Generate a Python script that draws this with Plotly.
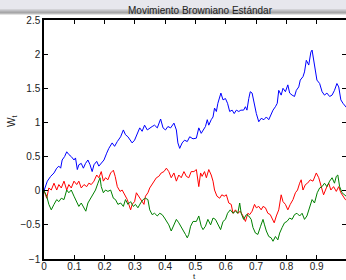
import plotly.graph_objects as go

# ---- data (t, W_t) ----
t_blue = [0.000, 0.004, 0.011, 0.022, 0.033, 0.042, 0.049, 0.055, 0.060, 0.068, 0.075, 0.082, 0.090, 0.099, 0.104,
          0.110, 0.115, 0.123, 0.130, 0.137, 0.145, 0.152, 0.159, 0.165, 0.174, 0.181, 0.189, 0.198, 0.207, 0.214,
          0.225, 0.233, 0.242, 0.253, 0.262, 0.269, 0.277, 0.286, 0.291, 0.299, 0.308, 0.316, 0.324, 0.332, 0.341,
          0.349, 0.357, 0.365, 0.374, 0.385, 0.393, 0.401, 0.409, 0.418, 0.429, 0.437, 0.442, 0.448, 0.456, 0.464,
          0.473, 0.481, 0.492, 0.503, 0.511, 0.519, 0.525, 0.533, 0.539, 0.544, 0.552, 0.558, 0.563, 0.569, 0.574,
          0.580, 0.584, 0.591, 0.599, 0.606, 0.613, 0.621, 0.628, 0.635, 0.643, 0.650, 0.659, 0.665, 0.670, 0.676,
          0.681, 0.687, 0.692, 0.701, 0.709, 0.717, 0.726, 0.734, 0.742, 0.750, 0.756, 0.764, 0.770, 0.775, 0.783,
          0.789, 0.797, 0.805, 0.811, 0.819, 0.827, 0.833, 0.841, 0.846, 0.855, 0.860, 0.866, 0.874, 0.881, 0.885,
          0.890, 0.896, 0.901, 0.910, 0.918, 0.926, 0.934, 0.943, 0.951, 0.959, 0.967, 0.973, 0.980, 0.987, 0.995,
          1.000]
w_blue = [0.00, 0.06, 0.14, 0.21, 0.26, 0.33, 0.36, 0.33, 0.45, 0.50, 0.57, 0.53, 0.50, 0.45, 0.48,
          0.31, 0.38, 0.40, 0.33, 0.40, 0.45, 0.38, 0.28, 0.38, 0.43, 0.36, 0.40, 0.45, 0.55, 0.62,
          0.70, 0.65, 0.72, 0.79, 0.89, 0.82, 0.79, 0.74, 0.70, 0.74, 0.84, 0.92, 0.87, 0.96, 0.89,
          0.92, 0.94, 0.96, 0.92, 1.05, 0.92, 0.89, 0.94, 0.92, 0.99, 0.89, 0.70, 0.62, 0.70, 0.74,
          0.72, 0.79, 0.76, 0.77, 0.92, 0.84, 0.89, 0.94, 1.04, 0.96, 1.04, 1.08, 1.21, 1.16, 1.28,
          1.38, 1.43, 1.33, 1.35, 1.28, 1.16, 1.18, 1.13, 1.18, 1.16, 1.18, 1.18, 1.23, 1.18, 1.35,
          1.45, 1.43, 1.30, 1.13, 1.01, 1.06, 1.04, 1.08, 1.04, 1.13, 1.18, 1.23, 1.28, 1.47, 1.40,
          1.50, 1.45, 1.55, 1.43, 1.40, 1.38, 1.47, 1.52, 1.62, 1.67, 1.74, 1.91, 1.84, 2.03, 2.06,
          1.91, 1.77, 1.62, 1.57, 1.45, 1.40, 1.43, 1.38, 1.40, 1.47, 1.57, 1.52, 1.33, 1.28, 1.23,
          1.21]

t_red = [0.000, 0.009, 0.016, 0.024, 0.033, 0.042, 0.049, 0.057, 0.066, 0.075, 0.082, 0.090, 0.099, 0.108, 0.115,
         0.123, 0.132, 0.141, 0.148, 0.156, 0.165, 0.174, 0.181, 0.189, 0.196, 0.203, 0.211, 0.220, 0.229, 0.235,
         0.242, 0.251, 0.258, 0.266, 0.275, 0.280, 0.286, 0.291, 0.299, 0.305, 0.313, 0.321, 0.330, 0.335, 0.343,
         0.349, 0.357, 0.365, 0.371, 0.379, 0.387, 0.396, 0.404, 0.412, 0.420, 0.429, 0.437, 0.445, 0.453, 0.462,
         0.470, 0.478, 0.486, 0.495, 0.503, 0.511, 0.517, 0.522, 0.530, 0.536, 0.544, 0.552, 0.558, 0.563, 0.571,
         0.580, 0.587, 0.595, 0.602, 0.610, 0.618, 0.624, 0.632, 0.640, 0.648, 0.657, 0.665, 0.673, 0.679, 0.687,
         0.695, 0.701, 0.709, 0.717, 0.723, 0.731, 0.739, 0.747, 0.756, 0.760, 0.767, 0.775, 0.783, 0.789, 0.797,
         0.805, 0.813, 0.822, 0.830, 0.837, 0.844, 0.849, 0.855, 0.863, 0.870, 0.879, 0.888, 0.899, 0.907, 0.915,
         0.923, 0.932, 0.940, 0.947, 0.956, 0.965, 0.973, 0.980, 0.987, 0.995, 1.000]
w_red = [0.00, -0.11, 0.04, 0.01, 0.11, 0.01, 0.09, 0.04, 0.14, 0.01, 0.09, 0.04, 0.14, 0.09, 0.14,
         0.04, 0.09, 0.06, 0.11, 0.09, 0.14, 0.23, 0.19, 0.28, 0.14, 0.19, 0.16, 0.26, 0.30, 0.21,
         0.06, -0.01, 0.01, -0.06, -0.13, -0.20, -0.28, -0.20, -0.16, -0.03, -0.08, -0.13, -0.20, -0.08, -0.03,
         0.04, 0.09, 0.14, 0.19, 0.21, 0.26, 0.28, 0.33, 0.28, 0.19, 0.26, 0.14, 0.23, 0.19, 0.28,
         0.21, 0.19, 0.28, 0.28, 0.31, 0.06, 0.26, 0.21, 0.28, 0.19, 0.31, 0.23, 0.14, 0.01, -0.08,
         -0.11, -0.06, -0.08, -0.06, -0.18, -0.20, -0.33, -0.28, -0.33, -0.30, -0.37, -0.45, -0.33, -0.35, -0.30,
         -0.20, -0.25, -0.23, -0.28, -0.23, -0.25, -0.33, -0.35, -0.42, -0.47, -0.37, -0.28, -0.06, -0.16, -0.20,
         -0.28, -0.20, -0.13, -0.03, 0.01, 0.11, 0.16, 0.01, 0.09, 0.11, 0.16, 0.14, 0.26, 0.19, 0.06,
         -0.06, 0.04, 0.11, 0.01, 0.06, -0.01, 0.06, -0.03, -0.08, -0.13, -0.14]

t_green = [0.000, 0.009, 0.016, 0.024, 0.033, 0.042, 0.049, 0.057, 0.066, 0.075, 0.082, 0.090, 0.099, 0.108, 0.115,
           0.123, 0.132, 0.138, 0.145, 0.154, 0.163, 0.170, 0.178, 0.185, 0.189, 0.196, 0.203, 0.211, 0.220, 0.229,
           0.236, 0.244, 0.253, 0.262, 0.269, 0.277, 0.286, 0.295, 0.302, 0.310, 0.319, 0.327, 0.335, 0.343, 0.349,
           0.357, 0.365, 0.374, 0.382, 0.390, 0.398, 0.404, 0.412, 0.420, 0.429, 0.437, 0.445, 0.453, 0.459, 0.467,
           0.473, 0.478, 0.484, 0.492, 0.503, 0.511, 0.519, 0.525, 0.533, 0.541, 0.550, 0.558, 0.566, 0.574, 0.583,
           0.591, 0.599, 0.606, 0.615, 0.624, 0.632, 0.640, 0.646, 0.651, 0.659, 0.668, 0.676, 0.684, 0.690, 0.698,
           0.706, 0.715, 0.723, 0.728, 0.734, 0.742, 0.750, 0.756, 0.764, 0.772, 0.778, 0.786, 0.794, 0.802, 0.811,
           0.819, 0.827, 0.835, 0.844, 0.852, 0.860, 0.868, 0.877, 0.885, 0.893, 0.902, 0.910, 0.918, 0.926, 0.934,
           0.943, 0.951, 0.959, 0.965, 0.970, 0.976, 0.984, 0.995, 1.000]
w_green = [0.00, -0.08, -0.20, -0.28, -0.20, -0.13, -0.16, -0.11, -0.13, 0.01, -0.03, 0.01, -0.08, -0.16, -0.23,
           -0.18, -0.25, -0.30, -0.18, -0.11, -0.06, 0.01, 0.11, 0.19, 0.06, -0.03, 0.01, -0.01, 0.01, -0.11,
           -0.13, -0.20, -0.18, -0.23, -0.13, -0.20, -0.16, -0.23, -0.20, -0.25, -0.18, -0.13, -0.11, -0.13, -0.28,
           -0.35, -0.33, -0.37, -0.33, -0.35, -0.40, -0.45, -0.50, -0.59, -0.50, -0.42, -0.47, -0.54, -0.59, -0.64,
           -0.69, -0.64, -0.52, -0.45, -0.45, -0.37, -0.52, -0.57, -0.52, -0.42, -0.50, -0.40, -0.42, -0.50, -0.57,
           -0.45, -0.42, -0.33, -0.28, -0.33, -0.30, -0.33, -0.18, -0.33, -0.42, -0.35, -0.37, -0.42, -0.54, -0.62,
           -0.64, -0.52, -0.42, -0.50, -0.59, -0.67, -0.69, -0.74, -0.67, -0.72, -0.62, -0.54, -0.47, -0.45, -0.40,
           -0.42, -0.35, -0.33, -0.37, -0.33, -0.42, -0.37, -0.25, -0.13, -0.18, -0.03, 0.04, 0.06, 0.11, 0.06,
           0.14, 0.19, 0.11, 0.21, 0.23, 0.06, -0.03, -0.08, -0.09]

x_ticks = [0, 0.1, 0.2, 0.3, 0.4, 0.5, 0.6, 0.7, 0.8, 0.9, 1.0]
x_tick_labels = ["0", "0.1", "0.2", "0.3", "0.4", "0.5", "0.6", "0.7", "0.8", "0.9", "1"]
y_ticks = [-1, -0.5, 0, 0.5, 1, 1.5, 2, 2.5]
y_tick_labels = ["\u22121", "\u22120.5", "0", "0.5", "1", "1.5", "2", "2.5"]

W, H = 346, 280
ML, MR, MT, MB = 44, 0, 20, 21
PH = H - MT - MB
PW = W - ML - MR

def py(pix):
    # paper y for a pixel row counted from the top of the figure
    return (H - MB - pix) / PH

fig = go.Figure()
fig.add_trace(go.Scatter(x=t_blue, y=w_blue, mode="lines", line=dict(color="#0000ff", width=1)))
fig.add_trace(go.Scatter(x=t_red, y=w_red, mode="lines", line=dict(color="#ff0000", width=1)))
fig.add_trace(go.Scatter(x=t_green, y=w_green, mode="lines", line=dict(color="#008000", width=1)))

# window-like header band with a grey gradient
bands = [(0, 9, "#e7e7ed"), (9, 10, "#d2d2d6"), (10, 11, "#c2c2c6"), (11, 12, "#b2b2b4"),
         (12, 13, "#a6a6a8"), (13, 14, "#bcbcbc"), (14, 15, "#e2e2e2")]
shapes = []
for a, b, c in bands:
    shapes.append(dict(type="rect", xref="paper", yref="paper", x0=-0.2, x1=1.2,
                       y0=py(b), y1=py(a), fillcolor=c, line=dict(width=0), layer="below"))

fig.update_layout(
    width=W, height=H,
    margin=dict(l=ML, r=MR, t=MT, b=MB, autoexpand=False),
    paper_bgcolor="white", plot_bgcolor="white",
    showlegend=False,
    font=dict(family="Liberation Sans, Arial, sans-serif", size=10, color="#222222"),
    shapes=shapes,
    xaxis=dict(range=[0, 0.997], tickvals=x_ticks, ticktext=x_tick_labels, ticks="inside", ticklen=4,
               tickcolor="black", showline=True, linecolor="black", linewidth=1.5, mirror="ticks",
               showgrid=False, zeroline=False, tickfont=dict(size=10), automargin=False,
               ticklabelstandoff=-3),
    yaxis=dict(range=[-1, 2.5], tickvals=y_ticks, ticktext=y_tick_labels, ticks="inside", ticklen=4,
               tickcolor="black", showline=True, linecolor="black", linewidth=1.5, mirror="ticks",
               showgrid=False, zeroline=False, tickfont=dict(size=10), automargin=False),
    annotations=[
        dict(text="Movimiento Browniano Estándar", xref="paper", yref="paper", x=(200 - ML) / PW, y=py(10),
             xanchor="center", yanchor="middle", showarrow=False, font=dict(size=10, color="#222222")),
        dict(text="t", xref="paper", yref="paper", x=(194 - ML) / PW, y=py(276),
             xanchor="center", yanchor="middle", showarrow=False, font=dict(size=8)),
        dict(text="W<sub>t</sub>", xref="paper", yref="paper", x=(12 - ML) / PW, y=py(122),
             xanchor="center", yanchor="middle", textangle=-90, showarrow=False, font=dict(size=10)),
    ],
)

fig.write_html("out.html", config={"displayModeBar": False},
               post_script="document.body.style.margin='0';document.body.style.overflow='hidden';")
